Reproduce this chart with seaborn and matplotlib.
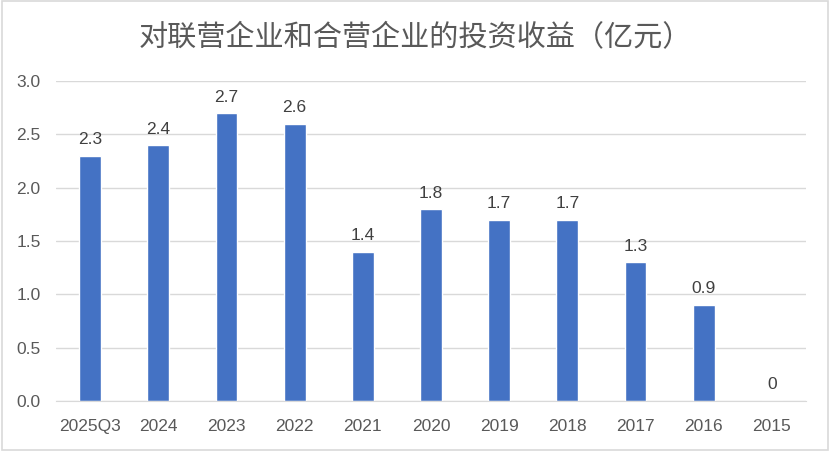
import pandas as pd
import seaborn as sns
import matplotlib.pyplot as plt
from matplotlib.patches import Rectangle

periods = ['2025Q3', '2024', '2023', '2022', '2021', '2020', '2019', '2018', '2017', '2016', '2015']
income = [2.3, 2.4, 2.7, 2.6, 1.4, 1.8, 1.7, 1.7, 1.3, 0.9, 0]
labels = ['2.3', '2.4', '2.7', '2.6', '1.4', '1.8', '1.7', '1.7', '1.3', '0.9', '0']
y_ticks = [0.0, 0.5, 1.0, 1.5, 2.0, 2.5, 3.0]

df = pd.DataFrame({'period': periods, 'income': income})

sns.set_style('white')
plt.rcParams['font.family'] = ['Liberation Sans', 'Noto Sans CJK SC', 'DejaVu Sans']

fig = plt.figure(figsize=(8.3, 4.51), dpi=100)
ax = fig.add_axes([0.0675, 0.111, 0.9035, 0.709])

sns.barplot(data=df, x='period', y='income', color='#4472C4', width=0.32,
            saturation=1, ax=ax)

ax.set_ylim(0, 3.0)
ax.set_yticks(y_ticks)
ax.set_yticklabels([f'{t:.1f}' for t in y_ticks])
ax.set_xlim(-0.5, len(periods) - 0.5)
ax.yaxis.grid(True, color='#D9D9D9', linewidth=1)
ax.set_axisbelow(True)
for s in ['top', 'right', 'left']:
    ax.spines[s].set_visible(False)
ax.spines['bottom'].set_color('#D9D9D9')
ax.tick_params(axis='both', length=0, labelsize=12.5, colors='#595959')
ax.tick_params(axis='x', pad=13)
ax.tick_params(axis='y', pad=11)
ax.set_xlabel('')
ax.set_ylabel('')

for i, (v, t) in enumerate(zip(income, labels)):
    ax.text(i, v + 0.08, t, ha='center', va='bottom', fontsize=12.5, color='#404040')

fig.text(0.5, 0.916, '对联营企业和合营企业的投资收益（亿元）', ha='center', va='center',
         fontsize=21, color='#595959', fontweight='light',
         family=['Noto Sans CJK SC', 'DejaVu Sans'])

fig.patches.append(Rectangle((0.002, 0.003), 0.996, 0.994, transform=fig.transFigure,
                             fill=False, edgecolor='#D9D9D9', linewidth=1.2))

fig.savefig('out.png', dpi=100)
